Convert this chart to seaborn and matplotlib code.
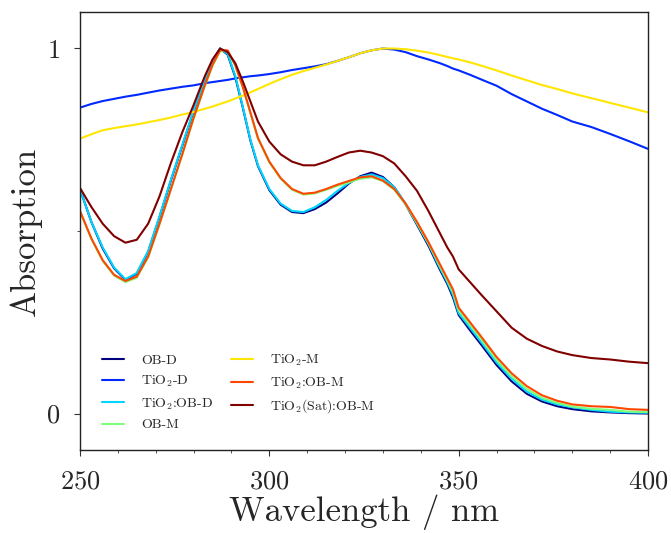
import numpy as np
import pandas as pd
import matplotlib
matplotlib.use("Agg")
import matplotlib.pyplot as plt
from matplotlib.ticker import MultipleLocator
import seaborn as sns

# Dalga boyu ızgarası (nm)
wavelength = [250, 253, 256, 259, 262, 265, 268, 271, 274, 277, 280, 283, 285, 287, 289,
              291, 293, 295, 297, 300, 303, 306, 309, 312, 315, 318, 321, 324, 327, 330,
              333, 336, 339, 342, 345, 347, 348.5, 350, 353, 356, 360, 364, 368, 372, 376,
              380, 385, 390, 395, 400]

ob_d = [0.615, 0.525, 0.452, 0.398, 0.366, 0.383, 0.443, 0.538, 0.638, 0.733, 0.828, 0.913, 0.963, 1.0, 0.983,
        0.922, 0.838, 0.748, 0.678, 0.612, 0.572, 0.552, 0.549, 0.560, 0.578, 0.603, 0.630, 0.650, 0.660, 0.648,
        0.620, 0.573, 0.517, 0.460, 0.395, 0.355, 0.318, 0.270, 0.228, 0.188, 0.133, 0.088, 0.054, 0.033, 0.020,
        0.012, 0.006, 0.003, 0.001, 0.0]

tio2_d = [0.838, 0.848, 0.856, 0.862, 0.868, 0.873, 0.879, 0.885, 0.890, 0.895, 0.899, 0.905, 0.908, 0.911, 0.914,
          0.918, 0.921, 0.924, 0.926, 0.930, 0.935, 0.941, 0.946, 0.951, 0.957, 0.966, 0.976, 0.987, 0.995, 1.0,
          0.997, 0.990, 0.979, 0.970, 0.960, 0.952, 0.945, 0.940, 0.928, 0.915, 0.898, 0.875, 0.855, 0.835, 0.818,
          0.800, 0.785, 0.766, 0.746, 0.725]

tio2_ob_d = [0.615, 0.525, 0.455, 0.400, 0.368, 0.385, 0.445, 0.540, 0.640, 0.735, 0.830, 0.915, 0.965, 1.0, 0.985,
             0.925, 0.840, 0.750, 0.680, 0.615, 0.575, 0.555, 0.552, 0.565, 0.585, 0.610, 0.632, 0.648, 0.655, 0.645,
             0.620, 0.575, 0.520, 0.465, 0.400, 0.360, 0.325, 0.275, 0.235, 0.195, 0.140, 0.095, 0.060, 0.038, 0.025,
             0.017, 0.010, 0.005, 0.003, 0.002]

ob_m = [0.553, 0.478, 0.418, 0.378, 0.360, 0.372, 0.428, 0.518, 0.613, 0.708, 0.808, 0.898, 0.953, 0.993, 0.993,
        0.953, 0.893, 0.823, 0.753, 0.688, 0.643, 0.613, 0.600, 0.603, 0.613, 0.624, 0.633, 0.643, 0.647, 0.637,
        0.613, 0.573, 0.522, 0.467, 0.405, 0.365, 0.333, 0.283, 0.243, 0.203, 0.147, 0.102, 0.067, 0.043, 0.029,
        0.019, 0.013, 0.010, 0.005, 0.004]

tio2_m = [0.753, 0.765, 0.776, 0.782, 0.787, 0.792, 0.798, 0.804, 0.811, 0.819, 0.826, 0.835, 0.841, 0.848, 0.855,
          0.863, 0.871, 0.880, 0.889, 0.903, 0.916, 0.928, 0.938, 0.947, 0.956, 0.966, 0.976, 0.987, 0.995, 1.0,
          1.0, 0.998, 0.994, 0.989, 0.982, 0.977, 0.973, 0.970, 0.962, 0.953, 0.940, 0.926, 0.913, 0.900, 0.889,
          0.877, 0.864, 0.851, 0.838, 0.825]

tio2_ob_m = [0.555, 0.480, 0.420, 0.380, 0.363, 0.375, 0.430, 0.520, 0.615, 0.710, 0.810, 0.900, 0.955, 0.995, 0.995,
             0.955, 0.895, 0.825, 0.755, 0.690, 0.645, 0.615, 0.602, 0.605, 0.615, 0.627, 0.637, 0.647, 0.650, 0.638,
             0.615, 0.575, 0.525, 0.470, 0.410, 0.370, 0.340, 0.290, 0.250, 0.210, 0.155, 0.110, 0.075, 0.050, 0.035,
             0.025, 0.020, 0.018, 0.012, 0.010]

tio2_sat_ob_m = [0.618, 0.566, 0.520, 0.486, 0.468, 0.476, 0.520, 0.595, 0.686, 0.770, 0.845, 0.925, 0.970, 1.0, 0.990,
                 0.960, 0.910, 0.855, 0.800, 0.745, 0.710, 0.690, 0.680, 0.680, 0.690, 0.703, 0.715, 0.720, 0.715, 0.705,
                 0.685, 0.650, 0.610, 0.555, 0.495, 0.455, 0.430, 0.395, 0.360, 0.325, 0.280, 0.235, 0.205, 0.185, 0.170,
                 0.160, 0.152, 0.148, 0.142, 0.138]

labels = ["OB-D", "TiO$_2$-D", "TiO$_2$:OB-D", "OB-M",
          "TiO$_2$-M", "TiO$_2$:OB-M", "TiO$_2$(Sat):OB-M"]
series = [ob_d, tio2_d, tio2_ob_d, ob_m, tio2_m, tio2_ob_m, tio2_sat_ob_m]

# Uzun formatta veri tablosu
df = pd.concat([pd.DataFrame({"Wavelength": wavelength, "Absorption": s, "Sample": lab})
                for lab, s in zip(labels, series)], ignore_index=True)

sns.set_style("white")
plt.rcParams["font.family"] = "serif"
plt.rcParams["font.serif"] = ["cmr10"]
plt.rcParams["mathtext.fontset"] = "cm"
plt.rcParams["axes.formatter.use_mathtext"] = True

colors = plt.cm.jet(np.linspace(0, 1, 7))

fig = plt.figure(figsize=(6.71, 5.33), dpi=100)
ax = fig.add_axes([0.1192, 0.1557, 0.8465, 0.8218])

sns.lineplot(data=df, x="Wavelength", y="Absorption", hue="Sample", hue_order=labels,
             palette=list(colors), linewidth=1.5, ax=ax, legend=False, sort=False)

ax.set_xlim(250, 400)
ax.set_ylim(-0.1, 1.1)
ax.set_xticks([250, 300, 350, 400])
ax.set_yticks([0, 1])
ax.xaxis.set_minor_locator(MultipleLocator(10))
ax.yaxis.set_minor_locator(MultipleLocator(0.5))
ax.tick_params(axis="both", which="major", labelsize=19, direction="out", length=4, width=0.8,
               pad=10, left=True, bottom=True, color="#333333")
ax.tick_params(axis="both", which="minor", direction="out", length=2.5, width=0.6,
               left=True, bottom=True, color="#333333")
ax.set_xlabel("Wavelength / nm", fontsize=25, labelpad=1)
ax.set_ylabel("Absorption", fontsize=25, labelpad=3)
for sp in ax.spines.values():
    sp.set_color("#222222")
    sp.set_linewidth(1.0)

handles = [plt.Line2D([], [], color=c, linewidth=1.5) for c in colors]
ax.legend(handles, labels, ncol=2, frameon=False, fontsize=10, loc="lower left",
          bbox_to_anchor=(0.017, 0.014), handlelength=1.6, handletextpad=1.2,
          columnspacing=1.3, labelspacing=0.5)

fig.savefig("out.png", dpi=100)
